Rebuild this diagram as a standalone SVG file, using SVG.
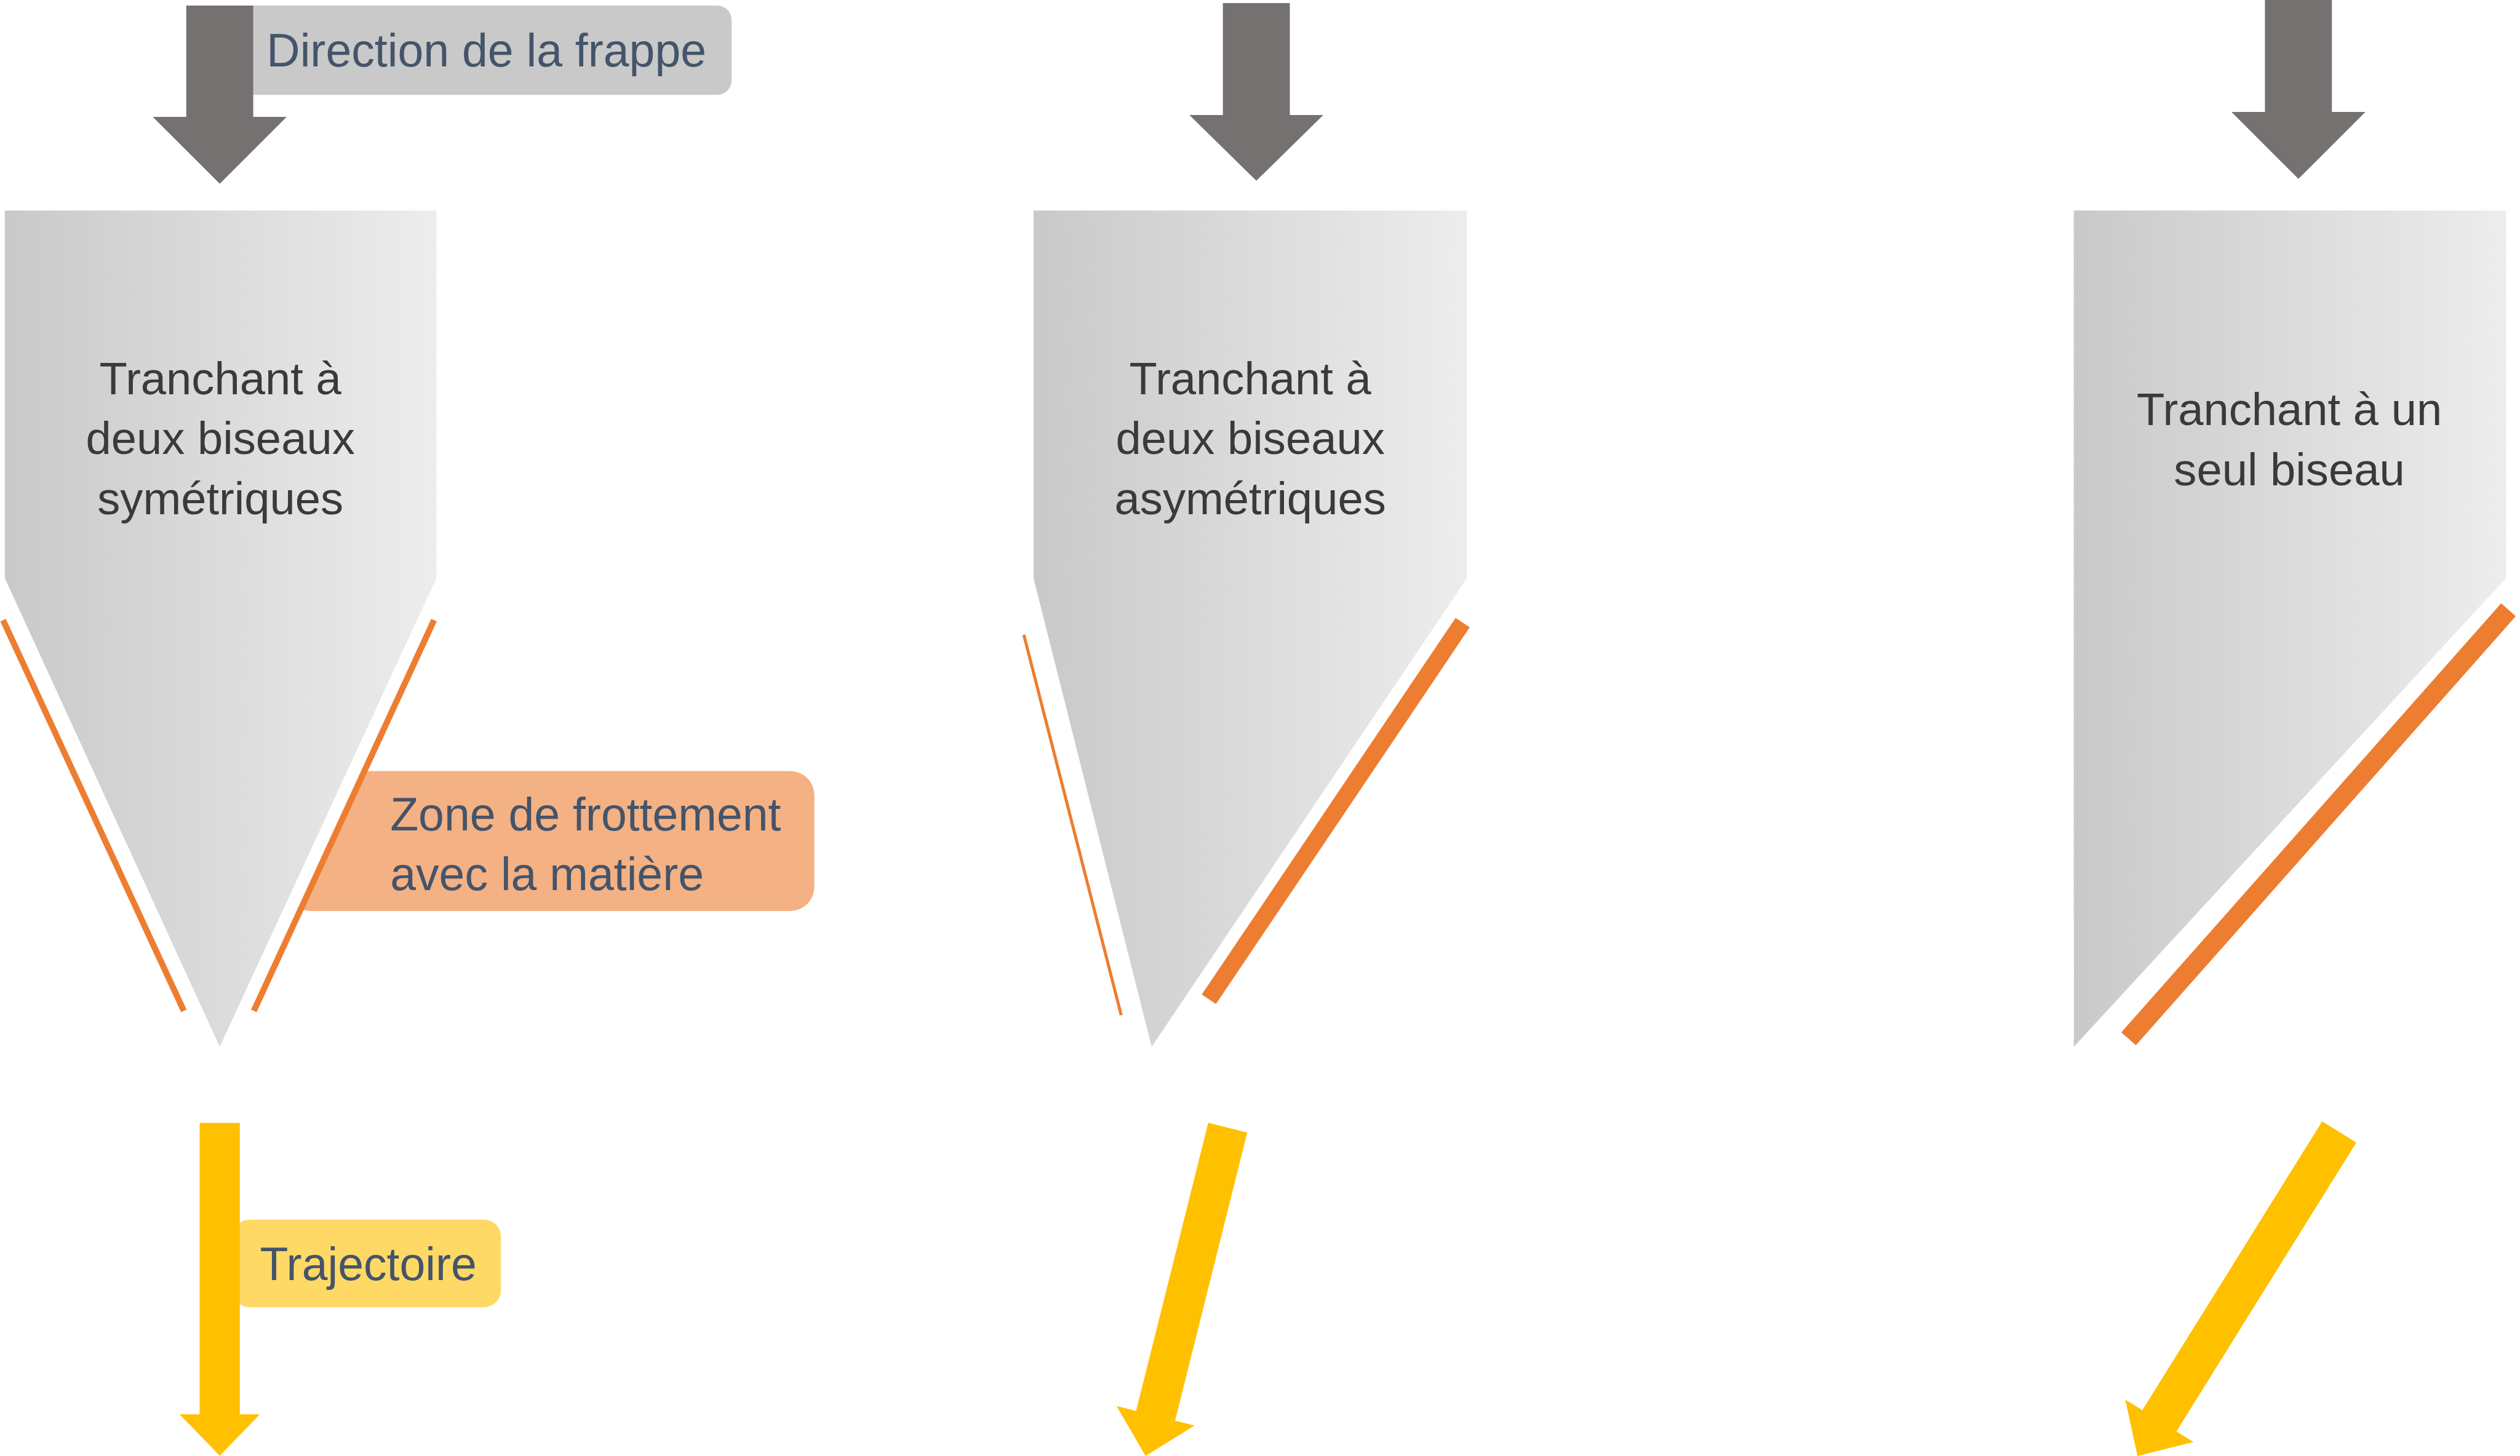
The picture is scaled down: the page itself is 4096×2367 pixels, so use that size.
<svg xmlns="http://www.w3.org/2000/svg" width="4096" height="2367" viewBox="0 0 4096 2367">
<defs>
<linearGradient id="bladeGrad" x1="0" y1="0" x2="1" y2="0">
<stop offset="0" stop-color="#C9C9C9"/>
<stop offset="1" stop-color="#EDEDED"/>
</linearGradient>
<style>
.gray{fill:#767171}
.yellow{fill:#FFC000}
.blade{fill:url(#bladeGrad)}
.rub{stroke:#ED7D31;fill:none;stroke-linecap:butt}
.bt{font-family:"Liberation Sans",Arial,sans-serif;font-size:75px;fill:#3A3A3A;text-anchor:middle}
.lt{font-family:"Liberation Sans",Arial,sans-serif;font-size:76px;fill:#44546A}
</style>
</defs>
<rect width="4096" height="2367" fill="#FFFFFF"/>
<g transform="scale(0.98937)">
<g id="label-direction">
<rect x="380" y="9" width="822" height="147" rx="24" fill="#C9C9C9"/>
</g>
<g id="label-zone">
<rect x="470" y="1267" width="868" height="230" rx="40" fill="#F4B183"/>
</g>
<g id="label-trajectoire">
<rect x="382" y="2004" width="441" height="144" rx="28" fill="#FFD966"/>
</g>
<g id="blade1">
<polygon class="blade" points="8,346 717,346 717,950 361,1720 8,950" stroke="#FFFFFF" stroke-width="46" stroke-linejoin="round" paint-order="stroke"/>
<text class="bt" x="362" y="648">Tranchant à</text>
<text class="bt" x="362" y="746">deux biseaux</text>
<text class="bt" x="362" y="845">symétriques</text>
</g>
<g id="blade2">
<polygon class="blade" points="1698,346 2410,346 2410,950 1892,1720 1698,950"/>
<text class="bt" x="2054" y="648">Tranchant à</text>
<text class="bt" x="2054" y="746">deux biseaux</text>
<text class="bt" x="2054" y="845">asymétriques</text>
</g>
<g id="blade3">
<polygon class="blade" points="3407,346 4117,346 4117,950 3407,1720"/>
<text class="bt" x="3761" y="698">Tranchant à un</text>
<text class="bt" x="3761" y="797">seul biseau</text>
</g>
<g id="rubbing-zones">
<line class="rub" x1="5" y1="1019" x2="302" y2="1661" stroke-width="10"/>
<line class="rub" x1="713" y1="1019" x2="417" y2="1661" stroke-width="10"/>
<line class="rub" x1="1682" y1="1043" x2="1842" y2="1668" stroke-width="5"/>
<line class="rub" x1="2403" y1="1023" x2="1986" y2="1642" stroke-width="28"/>
<line class="rub" x1="4121" y1="1002" x2="3497" y2="1707" stroke-width="32"/>
</g>
<g id="connectors">
<polygon class="gray" points="306,9 416,9 416,192 471,192 361,302 251,192 306,192"/>
<polygon class="gray" points="2009,5 2119,5 2119,189 2174,189 2064,297 1954,189 2009,189"/>
<polygon class="gray" points="3721,0 3831,0 3831,184 3886,184 3776,294 3666,184 3721,184"/>
<polygon class="yellow" transform="translate(361,1845)" points="-33,0 33,0 33,479 66,479 0,547 -66,479 -33,479"/>
<polygon class="yellow" transform="translate(2017,1853) rotate(14.06)" points="-33,0 33,0 33,488 66,488 0,556 -66,488 -33,488"/>
<polygon class="yellow" transform="translate(3843,1860) rotate(31.9)" points="-33,0 33,0 33,559 66,559 0,627 -66,559 -33,559"/>
</g>
<g id="label-texts">
<text class="lt" x="438" y="109">Direction de la frappe</text>
<text class="lt" x="641" y="1365">Zone de frottement</text>
<text class="lt" x="641" y="1463">avec la matière</text>
<text class="lt" x="427" y="2103">Trajectoire</text>
</g>
</g>
</svg>
